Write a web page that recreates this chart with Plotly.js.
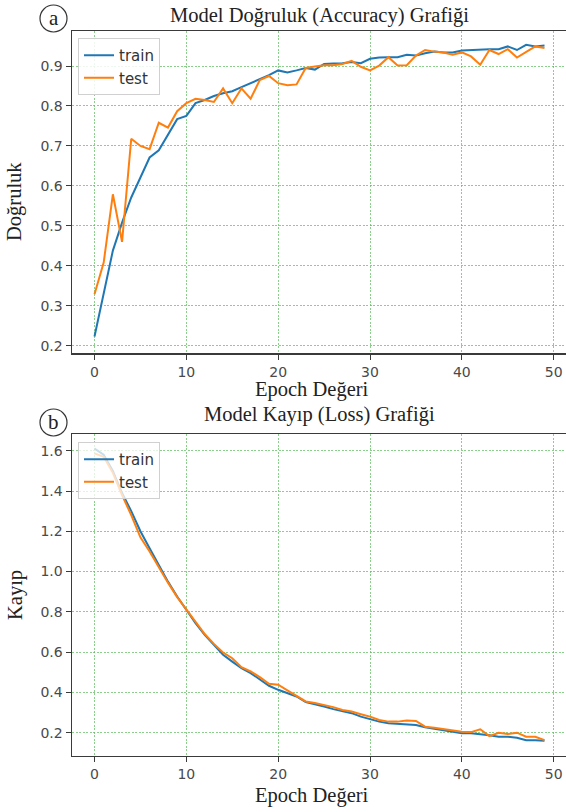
<!DOCTYPE html>
<html>
<head>
<meta charset="utf-8">
<script src="https://cdn.plot.ly/plotly-3.0.1.min.js"></script>
<style>html,body{margin:0;padding:0;background:#fff;}#chart{width:566px;height:812px;}</style>
</head>
<body>
<div id="chart"></div>
<script>
const epochs = Array.from({length: 50}, (_, i) => i);

const accTrain = [0.223,0.330,0.438,0.508,0.571,0.621,0.671,0.689,0.729,0.767,
  0.775,0.807,0.815,0.825,0.832,0.837,0.847,0.857,0.865,0.877,
  0.889,0.884,0.889,0.895,0.891,0.905,0.906,0.907,0.910,0.907,
  0.918,0.921,0.922,0.922,0.928,0.926,0.932,0.936,0.934,0.934,
  0.939,0.940,0.942,0.942,0.942,0.949,0.940,0.953,0.949,0.951];
const accTest = [0.329,0.408,0.579,0.460,0.718,0.700,0.692,0.758,0.746,0.787,
  0.807,0.818,0.815,0.810,0.844,0.807,0.844,0.818,0.865,0.875,
  0.857,0.852,0.854,0.895,0.899,0.902,0.902,0.905,0.913,0.898,
  0.889,0.901,0.922,0.901,0.902,0.926,0.940,0.936,0.934,0.928,
  0.934,0.924,0.903,0.940,0.930,0.942,0.921,0.936,0.949,0.945];

const lossTrain = [1.610,1.580,1.500,1.390,1.300,1.200,1.116,1.030,0.950,0.876,
  0.810,0.744,0.686,0.636,0.587,0.553,0.520,0.496,0.466,0.433,
  0.413,0.397,0.380,0.352,0.342,0.330,0.317,0.307,0.297,0.280,
  0.267,0.255,0.247,0.243,0.242,0.238,0.227,0.220,0.213,0.207,
  0.197,0.197,0.193,0.187,0.180,0.180,0.175,0.163,0.163,0.160];
const lossTest = [1.587,1.570,1.490,1.380,1.280,1.170,1.100,1.020,0.945,0.873,
  0.813,0.747,0.690,0.641,0.598,0.570,0.525,0.504,0.476,0.443,
  0.438,0.410,0.383,0.355,0.347,0.338,0.327,0.313,0.305,0.292,
  0.280,0.263,0.255,0.255,0.260,0.258,0.230,0.225,0.218,0.210,
  0.205,0.203,0.217,0.183,0.200,0.193,0.200,0.180,0.180,0.163];

const seriesNames = ['train', 'test'];
const blue = '#1f77b4', orange = '#ff7f0e';

const W = 566, H = 812;
const px = v => v / W;
const py = v => (H - v) / H;

const traces = [
  {x: epochs, y: accTrain, name: seriesNames[0], type: 'scatter', mode: 'lines',
   line: {color: blue, width: 2}, xaxis: 'x', yaxis: 'y', legend: 'legend'},
  {x: epochs, y: accTest, name: seriesNames[1], type: 'scatter', mode: 'lines',
   line: {color: orange, width: 2}, xaxis: 'x', yaxis: 'y', legend: 'legend'},
  {x: epochs, y: lossTrain, name: seriesNames[0], type: 'scatter', mode: 'lines',
   line: {color: blue, width: 2}, xaxis: 'x2', yaxis: 'y2', legend: 'legend2'},
  {x: epochs, y: lossTest, name: seriesNames[1], type: 'scatter', mode: 'lines',
   line: {color: orange, width: 2}, xaxis: 'x2', yaxis: 'y2', legend: 'legend2'}
];

const tickFont = {family: 'DejaVu Sans', size: 14, color: '#4a4a4a'};
const gridCommon = {showgrid: true, gridcolor: 'rgba(90,185,90,0.7)', gridwidth: 1, griddash: '2px,1.5px',
  zeroline: false, showline: true, linecolor: '#3a3a3a', linewidth: 1.5,
  ticks: 'outside', ticklen: 5, tickcolor: '#3a3a3a', tickwidth: 1, tickfont: tickFont};

const xCommon = Object.assign({}, gridCommon, {range: [-2.45, 51.34], tickvals: [0,10,20,30,40,50],
  domain: [px(72), 1], mirror: true});

const serif = 'Liberation Serif, Times New Roman, serif';
const titleFont = {family: serif, size: 20.5, color: '#222'};

const legendFont = {family: 'DejaVu Sans', size: 15, color: '#333'};

const layout = {
  width: W, height: H,
  margin: {l: 0, r: 0, t: 0, b: 0},
  paper_bgcolor: '#fff', plot_bgcolor: '#fff',
  showlegend: true,
  xaxis: Object.assign({}, xCommon, {anchor: 'y'}),
  yaxis: Object.assign({}, gridCommon, {range: [0.181, 0.9876], tickvals: [0.2,0.3,0.4,0.5,0.6,0.7,0.8,0.9],
    tickformat: '.1f', domain: [py(353.3), py(31)], anchor: 'x', mirror: false}),
  xaxis2: Object.assign({}, xCommon, {anchor: 'y2'}),
  yaxis2: Object.assign({}, gridCommon, {range: [0.0858, 1.683], tickvals: [0.2,0.4,0.6,0.8,1.0,1.2,1.4,1.6],
    tickformat: '.1f', domain: [py(755.7), py(434)], anchor: 'x2', mirror: false}),
  legend: {x: px(78), y: py(38), xanchor: 'left', yanchor: 'top',
    bgcolor: 'rgba(255,255,255,0.85)', bordercolor: '#d0d0d0', borderwidth: 1,
    font: legendFont, itemwidth: 30, tracegroupgap: 0},
  legend2: {x: px(78), y: py(442), xanchor: 'left', yanchor: 'top',
    bgcolor: 'rgba(255,255,255,0.75)', bordercolor: '#d0d0d0', borderwidth: 1,
    font: legendFont, itemwidth: 30, tracegroupgap: 0},
  annotations: [
    {text: 'Model Doğruluk (Accuracy) Grafiği', x: px(319.5), y: py(16), xref: 'paper', yref: 'paper',
     xanchor: 'center', yanchor: 'middle', showarrow: false, font: titleFont},
    {text: 'Epoch Değeri', x: px(312), y: py(389), xref: 'paper', yref: 'paper',
     xanchor: 'center', yanchor: 'middle', showarrow: false, font: titleFont},
    {text: 'Doğruluk', x: px(15), y: py(202), xref: 'paper', yref: 'paper', textangle: -90,
     xanchor: 'center', yanchor: 'middle', showarrow: false, font: titleFont},
    {text: 'Model Kayıp (Loss) Grafiği', x: px(319.5), y: py(414), xref: 'paper', yref: 'paper',
     xanchor: 'center', yanchor: 'middle', showarrow: false, font: titleFont},
    {text: 'Epoch Değeri', x: px(312), y: py(795), xref: 'paper', yref: 'paper',
     xanchor: 'center', yanchor: 'middle', showarrow: false, font: titleFont},
    {text: 'Kayıp', x: px(15), y: py(595), xref: 'paper', yref: 'paper', textangle: -90,
     xanchor: 'center', yanchor: 'middle', showarrow: false, font: titleFont},
    {text: 'a', x: px(53.5), y: py(18), xref: 'paper', yref: 'paper',
     xanchor: 'center', yanchor: 'middle', showarrow: false, font: {family: serif, size: 21, color: '#222'}},
    {text: 'b', x: px(53.5), y: py(422), xref: 'paper', yref: 'paper',
     xanchor: 'center', yanchor: 'middle', showarrow: false, font: {family: serif, size: 21, color: '#222'}}
  ],
  shapes: [
    {type: 'circle', xref: 'paper', yref: 'paper', x0: px(40), x1: px(67), y0: py(32), y1: py(5),
     line: {color: '#333', width: 1.2}},
    {type: 'circle', xref: 'paper', yref: 'paper', x0: px(40), x1: px(67), y0: py(436), y1: py(409),
     line: {color: '#333', width: 1.2}}
  ]
};

Plotly.newPlot('chart', traces, layout, {displayModeBar: false, staticPlot: true});
</script>
</body>
</html>
